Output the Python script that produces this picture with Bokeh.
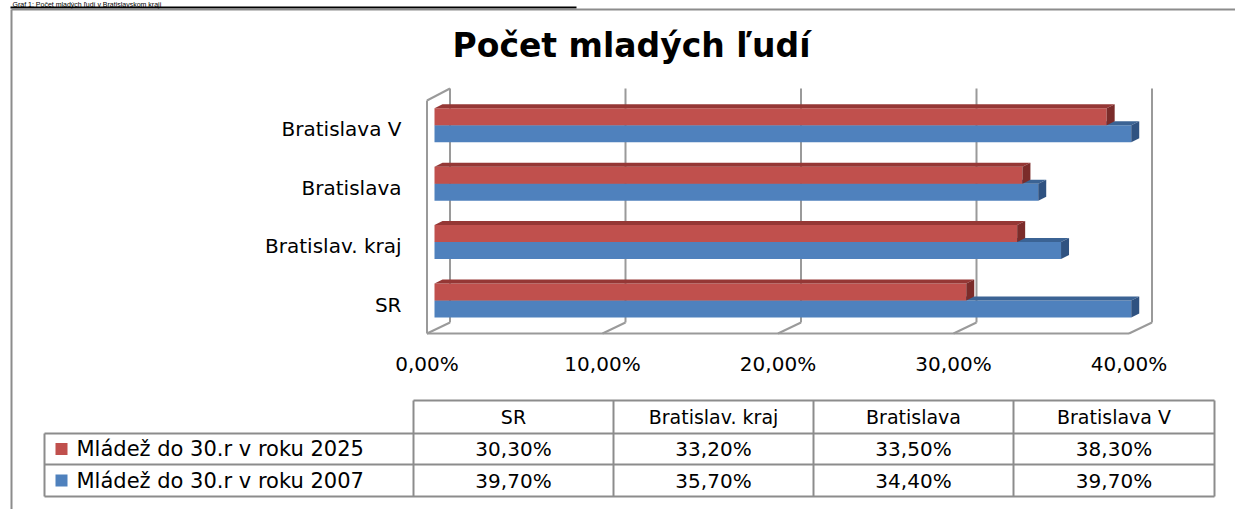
import numpy as np
from bokeh.plotting import figure
from bokeh.models import Range1d
from bokeh.core.properties import value
from bokeh.embed import file_html
from bokeh.resources import INLINE

# ---------------- data ----------------
categories = ["SR", "Bratislav. kraj", "Bratislava", "Bratislava V"]
youth_2025 = [30.3, 33.2, 33.5, 38.3]   # %  (red series)
youth_2007 = [39.7, 35.7, 34.4, 39.7]   # %  (blue series)
series_names = ["Mládež do 30.r v roku 2025", "Mládež do 30.r v roku 2007"]
x_ticks = [0, 10, 20, 30, 40]
x_tick_labels = ["0,00%", "10,00%", "20,00%", "30,00%", "40,00%"]
title_text = "Počet mladých ľudí"
caption_text = "Graf 1: Počet mladých ľudí v Bratislavskom kraji"

# ---------------- layout helpers (image px -> data) ----------------
W, H = 1235, 509
X0, PX = 426.5, 17.55     # image x of 0 %, px per 1 %
Y0, PY = 304.0, 58.4      # image y of first category, px per category


def xd(px):
    return (px - X0) / PX


def yd(py):
    return (Y0 - py) / PY


FONT = value("DejaVu Sans")
GRID = "#9a9a9a"
TABLE_LINE = "#8c8c8c"
RED, RED_TOP, RED_SIDE = "#c0504d", "#953735", "#7b2c2a"
BLUE, BLUE_TOP, BLUE_SIDE = "#4f81bd", "#3b6394", "#2f5281"

p = figure(width=W, height=H,
           x_range=Range1d(xd(0), xd(W)),
           y_range=Range1d(yd(H), yd(0)),
           x_axis_location=None, y_axis_location=None,
           toolbar_location=None, output_backend="svg",
           min_border=0)
p.grid.visible = False
p.outline_line_color = None
p.background_fill_color = "white"
p.border_fill_color = "white"

# ---------------- caption above the chart (mostly cropped in the source) ----------------
p.text(x=[xd(12)], y=[yd(0)], text=[caption_text], text_font=value("Liberation Sans"),
       text_font_size="7px", text_color="black",
       text_align="left", text_baseline="top")
p.segment(x0=[xd(10)], y0=[yd(7)], x1=[xd(576)], y1=[yd(7)],
          line_color="black", line_width=2)

# ---------------- outer frame ----------------
p.segment(x0=[xd(11), xd(11)], y0=[yd(9), yd(9)],
          x1=[xd(11), xd(W)], y1=[yd(H), yd(9)],
          line_color=TABLE_LINE, line_width=2)

# ---------------- title ----------------
p.text(x=[xd(631)], y=[yd(45)], text=[title_text], text_font=FONT,
       text_font_size="33px", text_font_style="bold", text_color="black",
       text_align="center", text_baseline="middle")

# ---------------- 3D walls / gridlines ----------------
ticks = np.array(x_ticks, dtype=float)
DW = 23 / PX
y_floor_front = yd(333)
y_floor_back = yd(322)
y_wall_top = yd(88)
y_left_front_top = yd(100)

p.segment(x0=ticks + DW, y0=y_floor_back, x1=ticks + DW, y1=y_wall_top,
          line_color=GRID, line_width=2)
p.segment(x0=ticks, y0=y_floor_front, x1=ticks + DW, y1=y_floor_back,
          line_color=GRID, line_width=2)
p.segment(x0=[ticks[0]], y0=[y_floor_front], x1=[ticks[-1]], y1=[y_floor_front],
          line_color=GRID, line_width=2)
p.segment(x0=[ticks[0], ticks[0]], y0=[y_floor_front, y_left_front_top],
          x1=[ticks[0], ticks[0] + DW], y1=[y_left_front_top, y_wall_top],
          line_color=GRID, line_width=2)

# ---------------- 3D bars ----------------
idx = np.arange(len(categories), dtype=float)
SPLIT = 4 / PY
BH = 17 / PY
OX = 7.5 / PX
DX = 8 / PX
DY = 4 / PY


def draw_bars(vals, bottom, top, front, topc, side):
    right = np.array(vals, dtype=float) + OX
    p.quad(left=OX, right=right, bottom=bottom, top=top,
           fill_color=front, line_color=None)
    p.patches(xs=[[OX, r, r + DX, OX + DX] for r in right],
              ys=[[t, t, t + DY, t + DY] for t in top],
              fill_color=topc, line_color=None)
    p.patches(xs=[[r, r + DX, r + DX, r] for r in right],
              ys=[[b, b + DY, t + DY, t] for b, t in zip(bottom, top)],
              fill_color=side, line_color=None)


draw_bars(youth_2007, idx + SPLIT - BH, idx + SPLIT, BLUE, BLUE_TOP, BLUE_SIDE)
draw_bars(youth_2025, idx + SPLIT, idx + SPLIT + BH, RED, RED_TOP, RED_SIDE)

# ---------------- axis labels ----------------
p.text(x=x_ticks, y=[yd(363)] * len(x_ticks), text=x_tick_labels,
       text_font=FONT, text_font_size="20px", text_color="black",
       text_align="center", text_baseline="middle")
p.text(x=[xd(401)] * len(categories), y=idx, text=categories,
       text_font=FONT, text_font_size="20px", text_color="black",
       text_align="right", text_baseline="middle")

# ---------------- data table ----------------
TX = [44, 413, 613, 813, 1013, 1214]
TY = [400, 433, 464, 496]
hx0 = [xd(TX[1])] + [xd(TX[0])] * 3
hx1 = [xd(TX[-1])] * 4
hy = [yd(v) for v in TY]
p.segment(x0=hx0, y0=hy, x1=hx1, y1=hy, line_color=TABLE_LINE, line_width=2)
vx = [xd(TX[0])] + [xd(v) for v in TX[1:]]
vy0 = [yd(TY[1])] + [yd(TY[0])] * (len(TX) - 1)
vy1 = [yd(TY[-1])] * len(TX)
p.segment(x0=vx, y0=vy0, x1=vx, y1=vy1, line_color=TABLE_LINE, line_width=2)

col_centers = [xd((TX[i] + TX[i + 1]) / 2) for i in range(1, len(TX) - 1)]
row_centers = [yd((TY[i] + TY[i + 1]) / 2) for i in range(len(TY) - 1)]

p.text(x=col_centers, y=[row_centers[0]] * len(categories), text=categories,
       text_font=FONT, text_font_size="19px", text_color="black",
       text_align="center", text_baseline="middle")


def fmt(v):
    return f"{v:.2f}%".replace(".", ",")


for r, (vals, col) in enumerate([(youth_2025, RED), (youth_2007, BLUE)], start=1):
    p.text(x=col_centers, y=[row_centers[r]] * len(vals), text=[fmt(v) for v in vals],
           text_font=FONT, text_font_size="20px", text_color="black",
           text_align="center", text_baseline="middle")
    p.rect(x=[xd(61)], y=[row_centers[r]], width=12, height=12,
           width_units="screen", height_units="screen",
           fill_color=col, line_color=None)
    p.text(x=[xd(76)], y=[row_centers[r]], text=[series_names[r - 1]],
           text_font=FONT, text_font_size="21px", text_color="black",
           text_align="left", text_baseline="middle")

open("out.html", "w").write(file_html(p, INLINE))
